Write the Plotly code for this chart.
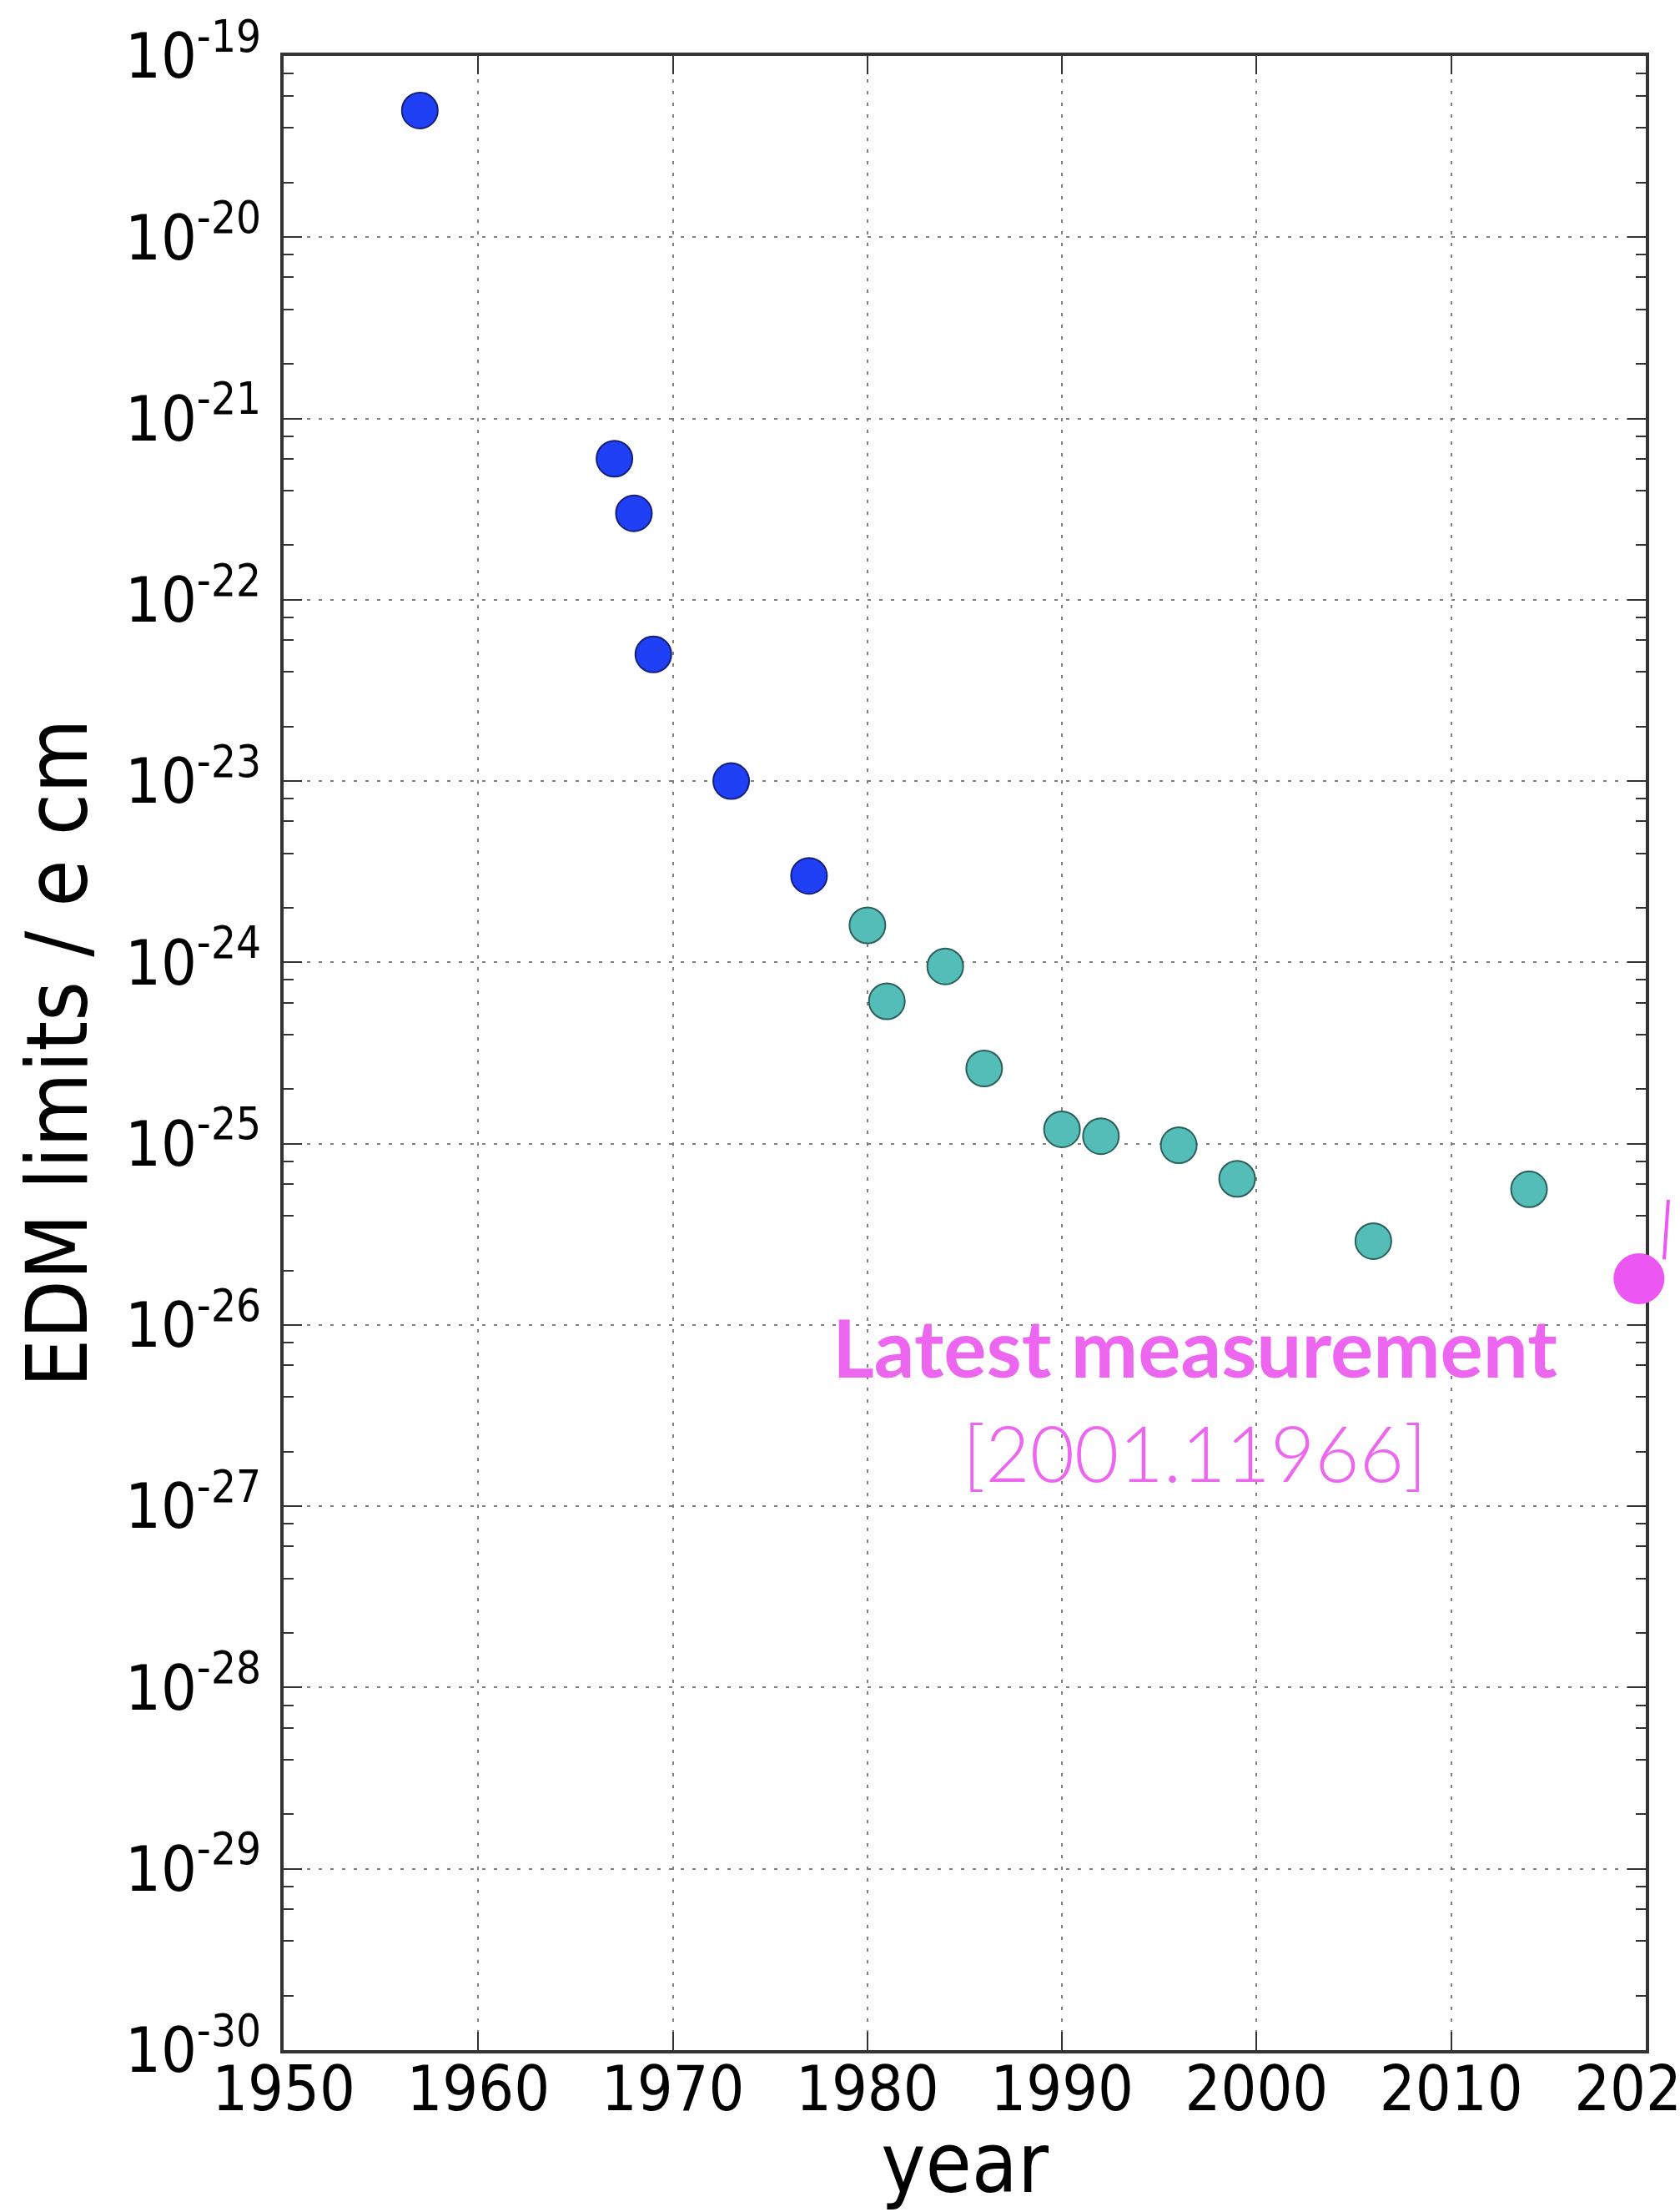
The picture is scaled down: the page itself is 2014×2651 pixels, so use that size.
import plotly.graph_objects as go

# ---- data ----
early_years = [1957, 1967, 1968, 1969, 1973, 1977]
early_limits = [5.0e-20, 6.0e-22, 3.0e-22, 5.0e-23, 1.0e-23, 3.0e-24]

later_years = [1980, 1981, 1984, 1986, 1990, 1992, 1996, 1999, 2006, 2014]
later_limits = [1.6e-24, 6.1e-25, 9.5e-25, 2.6e-25, 1.2e-25, 1.1e-25, 9.8e-26, 6.4e-26, 2.9e-26, 5.6e-26]

latest_year = [2019.65]
latest_limit = [1.8e-26]

x_ticks = [1950, 1960, 1970, 1980, 1990, 2000, 2010, 2020]
y_exponents = list(range(-30, -18))

y_tickvals = [10.0 ** e for e in y_exponents]
y_ticktext = ["10<sup>%d</sup>" % e for e in y_exponents]
y_minor = [k * 10.0 ** e for e in y_exponents[:-1] for k in (2, 4, 6, 8)]

MAGENTA = "#ec56f2"
TXT_MAGENTA = "#ec66f0"
AXIS_FONT = "DejaVu Sans Condensed, DejaVu Sans"

fig = go.Figure()
fig.add_trace(go.Scatter(
    x=early_years, y=early_limits, mode="markers",
    marker=dict(size=43, color="#1f40f5", line=dict(color="#14207a", width=2)),
    showlegend=False))
fig.add_trace(go.Scatter(
    x=later_years, y=later_limits, mode="markers",
    marker=dict(size=43, color="#55bdb7", line=dict(color="#2b5f5b", width=2)),
    showlegend=False))
fig.add_trace(go.Scatter(
    x=latest_year, y=latest_limit, mode="markers", cliponaxis=False,
    marker=dict(size=61, color=MAGENTA, line=dict(width=0)),
    showlegend=False))

axis_common = dict(
    showline=True, linecolor="#333333", linewidth=4, mirror="allticks",
    ticks="inside", ticklen=22, tickwidth=2, tickcolor="#333333",
    showgrid=True, gridcolor="#808080", gridwidth=2, griddash="4px,10px",
    zeroline=False, layer="below traces", automargin=False,
    ticklabeloverflow="allow",
    tickfont=dict(family=AXIS_FONT, size=75, color="black"),
)

fig.update_xaxes(
    range=[1949.9999, 2020.0001], tickmode="array", tickvals=x_ticks,
    ticktext=[str(v) for v in x_ticks],
    ticklabelstandoff=-22,
    title=dict(text="year", font=dict(family=AXIS_FONT, size=100, color="black"), standoff=23),
    **axis_common)
fig.update_yaxes(
    type="log", range=[-30, -19], tickmode="array", tickvals=y_tickvals, ticktext=y_ticktext,
    minor=dict(tickmode="array", tickvals=y_minor, ticks="inside", ticklen=12, tickwidth=2,
               tickcolor="#333333", showgrid=False),
    title=dict(text="EDM limits / e cm", font=dict(family=AXIS_FONT, size=102, color="black"), standoff=12),
    ticklabelstandoff=8,
    **axis_common)

fig.add_annotation(xref="paper", yref="paper", x=0.669, y=0.353, text="<b>Latest measurement</b>",
                   showarrow=False, xanchor="center", yanchor="middle",
                   font=dict(family="Lato", size=96, color=TXT_MAGENTA))
fig.add_annotation(xref="paper", yref="paper", x=0.669, y=0.300, text="[2001.11966]",
                   showarrow=False, xanchor="center", yanchor="middle",
                   font=dict(family="Lato", size=92, color=TXT_MAGENTA, weight=300))

# cut-off magenta stroke at the right edge of the figure
fig.add_shape(type="line", xref="paper", yref="y", x0=1.0135, x1=1.0165, y0=2.3e-26, y1=4.9e-26,
              line=dict(color=MAGENTA, width=4))

fig.update_layout(
    width=2014, height=2651,
    margin=dict(l=340, r=41, t=67, b=194),
    paper_bgcolor="white", plot_bgcolor="white",
)

fig.write_html("out.html")
